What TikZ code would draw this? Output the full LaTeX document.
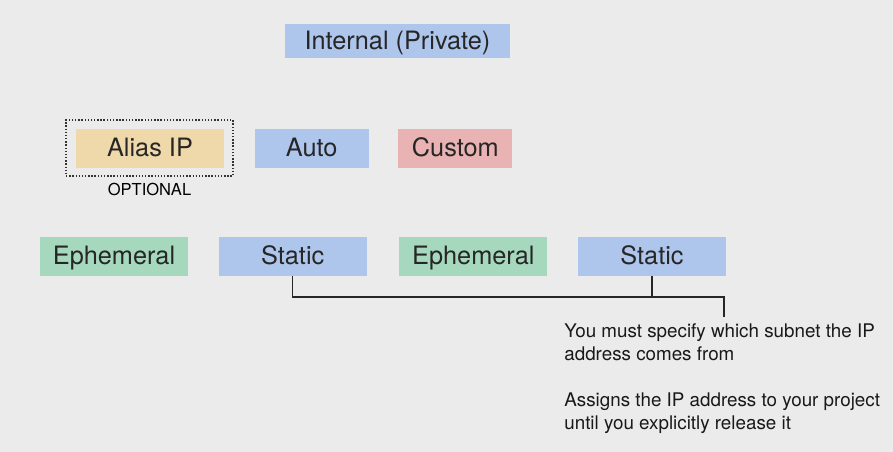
\documentclass[tikz,border=0pt]{standalone}
\usepackage{fontspec}
\setmainfont{TeX Gyre Heros}
\usetikzlibrary{positioning}

\definecolor{bgray}{HTML}{EBEBEB}
\definecolor{ipblue}{HTML}{AEC5EC}
\definecolor{ipgreen}{HTML}{A6D8BD}
\definecolor{ippink}{HTML}{E9B3B4}
\definecolor{ipsand}{HTML}{EFD9AA}

\begin{document}
\begin{tikzpicture}[x=0.02cm, y=-0.02cm,
    box/.style={rectangle, inner sep=0pt, minimum width=2.96cm,
      minimum height=0.78cm, text height=0.95em, text depth=0pt,
      font=\fontsize{14.4}{17}\selectfont, text=black!85},
    small/.style={box, minimum width=2.28cm},
    optbox/.style={draw=black!80, densely dotted, thick, inner sep=0pt},
    link/.style={black!85, semithick},
    note/.style={align=left, anchor=north west, inner sep=0pt,
      font=\fontsize{10.7}{13.2}\selectfont, text=black!90}]

  % background
  \fill[bgray] (0,0) rectangle (893,452);
  \useasboundingbox (0,0) rectangle (893,452);

  % top
  \node[box, fill=ipblue, minimum width=4.5cm, minimum height=0.68cm] (int) at (397.5,41) {Internal (Private)};

  % second row
  \node[box, fill=ipsand] (alias) at (150,148.5) {Alias IP};
  \node[small, fill=ipblue, right=0.6cm of alias] (auto) {Auto};
  \node[small, fill=ippink, right=0.58cm of auto] (cust) {Custom};
  \node[optbox, minimum width=3.34cm, minimum height=1.12cm] (opt) at (149.5,148) {};
  \node[font=\fontsize{9.4}{11}\selectfont, below=0cm of opt] (optl) {OPTIONAL};

  % third row
  \node[box, fill=ipgreen] (eph1) at (114,256.5) {Ephemeral};
  \node[box, fill=ipblue, right=0.6cm of eph1] (st1) {Static};
  \node[box, fill=ipgreen, right=0.64cm of st1] (eph2) {Ephemeral};
  \node[box, fill=ipblue, right=0.6cm of eph2] (st2) {Static};

  % bracket and note
  \coordinate (corner) at (724,297);
  \coordinate (tip) at (724,317);
  \draw[link] (st1.south) |- (corner) -- (tip);
  \draw[link] (st2.south) -- (st2.south |- corner);

  \node[note] (txt) at (564,323) {You must specify which subnet the IP\\
    address comes from\\[13.2pt]
    Assigns the IP address to your project\\
    until you explicitly release it};

\end{tikzpicture}
\end{document}
